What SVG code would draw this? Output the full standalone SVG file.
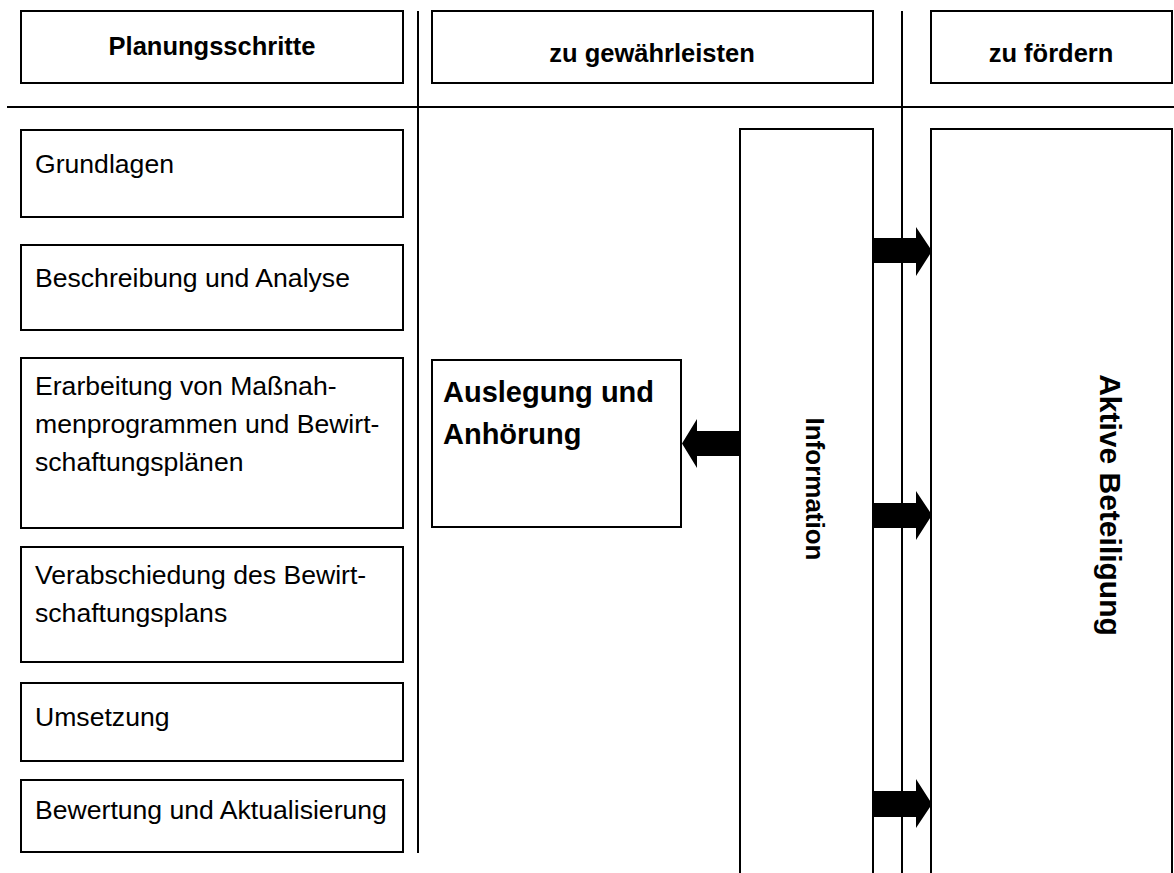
<svg xmlns="http://www.w3.org/2000/svg" width="1174" height="873" viewBox="0 0 1174 873">
  <style>
    .box { fill: #fff; stroke: #000; stroke-width: 2; }
    .rule { stroke: #000; stroke-width: 2; fill: none; }
    .head { font-family: "Liberation Sans", Arial, sans-serif; font-size: 25.5px; font-weight: bold; fill: #000; text-anchor: middle; }
    .step { font-family: "Liberation Sans", Arial, sans-serif; font-size: 26.6px; fill: #000; }
    .big { font-family: "Liberation Sans", Arial, sans-serif; font-size: 29px; font-weight: bold; fill: #000; }
    .vert { font-family: "Liberation Sans", Arial, sans-serif; font-weight: bold; fill: #000; text-anchor: middle; }
    .arrow { fill: #000; stroke: none; }
  </style>
  <rect width="1174" height="873" fill="#fff"/>

  <!-- column dividers -->
  <g id="grid">
    <line class="rule" x1="7" y1="107" x2="1174" y2="107"/>
    <line class="rule" x1="418" y1="11" x2="418" y2="853"/>
    <line class="rule" x1="902" y1="11" x2="902" y2="873"/>
  </g>

  <!-- column headers -->
  <g id="h-planung">
    <rect class="box" x="21" y="11" width="382" height="72"/>
    <text class="head" x="212" y="55">Planungsschritte</text>
  </g>
  <g id="h-gewaehrleisten">
    <rect class="box" x="432" y="11" width="441" height="72"/>
    <text class="head" x="652" y="62">zu gewährleisten</text>
  </g>
  <g id="h-foerdern">
    <rect class="box" x="931" y="11" width="241" height="72"/>
    <text class="head" x="1051" y="62">zu fördern</text>
  </g>

  <!-- planning steps -->
  <g id="s-grundlagen">
    <rect class="box" x="21" y="130" width="382" height="87"/>
    <text class="step" x="35" y="173">Grundlagen</text>
  </g>
  <g id="s-beschreibung">
    <rect class="box" x="21" y="245" width="382" height="85"/>
    <text class="step" x="35" y="287">Beschreibung und Analyse</text>
  </g>
  <g id="s-erarbeitung">
    <rect class="box" x="21" y="358" width="382" height="170"/>
    <text class="step" x="35" y="395">Erarbeitung von Maßnah-</text>
    <text class="step" x="35" y="433">menprogrammen und Bewirt-</text>
    <text class="step" x="35" y="471">schaftungsplänen</text>
  </g>
  <g id="s-verabschiedung">
    <rect class="box" x="21" y="547" width="382" height="115"/>
    <text class="step" x="35" y="584">Verabschiedung des Bewirt-</text>
    <text class="step" x="35" y="622">schaftungsplans</text>
  </g>
  <g id="s-umsetzung">
    <rect class="box" x="21" y="683" width="382" height="78"/>
    <text class="step" x="35" y="726">Umsetzung</text>
  </g>
  <g id="s-bewertung">
    <rect class="box" x="21" y="780" width="382" height="72"/>
    <text class="step" x="35" y="819">Bewertung und Aktualisierung</text>
  </g>

  <!-- participation forms -->
  <g id="n-auslegung">
    <rect class="box" x="432" y="360" width="249" height="167"/>
    <text class="big" x="443" y="402">Auslegung und</text>
    <text class="big" x="443" y="444">Anhörung</text>
  </g>
  <g id="n-information">
    <path class="rule" d="M740 873 V129 H873 V873"/>
    <text class="vert" font-size="26" transform="translate(806 489) rotate(90)">Information</text>
  </g>
  <g id="n-beteiligung">
    <path class="rule" d="M931 873 V129 H1172 V873"/>
    <text class="vert" font-size="30" transform="translate(1100 505) rotate(90)">Aktive Beteiligung</text>
  </g>

  <!-- block arrows -->
  <g id="connectors">
    <polygon class="arrow" points="741,431 697,431 697,419 682,443.5 697,468 697,456 741,456"/>
    <polygon class="arrow" points="873,238 916,238 916,227 932,251 916,276 916,263 873,263"/>
    <polygon class="arrow" points="873,503 916,503 916,491 932,515 916,540 916,528 873,528"/>
    <polygon class="arrow" points="873,791 916,791 916,779 932,804 916,828 916,817 873,817"/>
  </g>
</svg>
